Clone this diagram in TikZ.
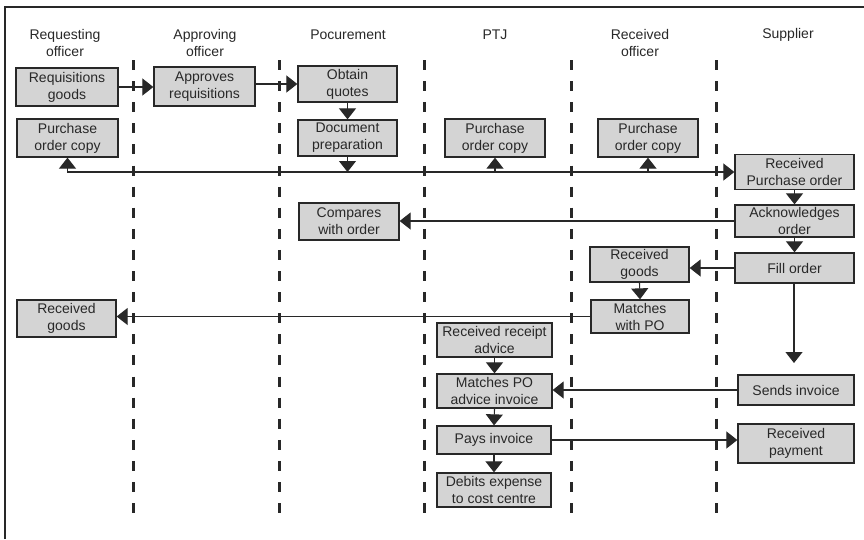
\documentclass[tikz,border=0pt]{standalone}
\usepackage{fontspec}
\setmainfont{Liberation Sans}
\usetikzlibrary{arrows.meta}
\definecolor{boxgray}{RGB}{212,212,212}
\definecolor{ink}{RGB}{40,40,40}
\begin{document}
\begin{tikzpicture}[x=1pt,y=-1pt,
  font=\fontsize{14}{17}\selectfont, text=ink,
  box/.style={draw=ink, line width=1.3pt, fill=boxgray, align=center, inner sep=0pt},
  lane/.style={draw=ink, line width=3pt, dash pattern=on 10pt off 11.1pt},
  conn/.style={draw=ink, line width=1.1pt},
  arr/.style={conn, -{Triangle[width=17pt,length=11pt]}},
  hdr/.style={align=center, inner sep=0pt}]
\useasboundingbox (0,0) rectangle (864,539);
% frame
\draw[ink, line width=1.3pt] (5,539) -- (5,7) -- (864,7);
% lanes
\foreach \x/\n in {133/a,279/b,424/c,571/d,716/e}{
  \coordinate (lt\n) at (\x,60);
  \coordinate (lb\n) at (\x,513);
  \draw[lane] (lt\n) -- (lb\n);
}
% headers
\node[hdr] (h1) at (65,43) {Requesting\\officer};
\node[hdr] (h2) at (205,43) {Approving\\officer};
\node[hdr] (h3) at (348,35) {Pocurement};
\node[hdr] (h4) at (495,35) {PTJ};
\node[hdr] (h5) at (640,43) {Received\\officer};
\node[hdr] (h6) at (788,35) {Supplier};
% boxes
\node[box, minimum width=102pt, minimum height=38pt] (req) at (67,87) {Requisitions\\goods};
\node[box, minimum width=101pt, minimum height=39pt] (appr) at (204.5,86.5) {Approves\\requisitions};
\node[box, minimum width=99pt, minimum height=36pt] (quo) at (347.5,84) {Obtain\\quotes};
\node[box, minimum width=99pt, minimum height=36pt] (doc) at (347.5,138) {Document\\preparation};
\node[box, minimum width=101pt, minimum height=38pt] (poca) at (67.5,138) {Purchase\\order copy};
\node[box, minimum width=100pt, minimum height=38pt] (pocb) at (495,138) {Purchase\\order copy};
\node[box, minimum width=100pt, minimum height=38pt] (pocc) at (648,138) {Purchase\\order copy};
\node[box, minimum width=119pt, minimum height=35pt] (rpo) at (794.5,172) {Received\\Purchase order};
\node[box, minimum width=119pt, minimum height=32pt] (ack) at (794.5,221) {Acknowledges\\order};
\node[box, minimum width=119pt, minimum height=30pt] (fill) at (794.5,268) {Fill order};
\node[box, minimum width=100pt, minimum height=37pt] (cmp) at (349,221.5) {Compares\\with order};
\node[box, minimum width=99pt, minimum height=35pt] (rgb) at (639.5,264.5) {Received\\goods};
\node[box, minimum width=98pt, minimum height=33pt] (mpo) at (640,316.5) {Matches\\with PO};
\node[box, minimum width=99pt, minimum height=37pt] (rga) at (66.5,318.5) {Received\\goods};
\node[box, minimum width=115pt, minimum height=34pt] (rra) at (494.5,340) {Received receipt\\advice};
\node[box, minimum width=115pt, minimum height=34pt] (mpai) at (494.5,391) {Matches PO\\advice invoice};
\node[box, minimum width=116pt, minimum height=30pt] (sinv) at (796,390) {Sends invoice};
\node[box, minimum width=114pt, minimum height=28pt] (pinv) at (494,440) {Pays invoice};
\node[box, minimum width=116pt, minimum height=39pt] (rpay) at (796,443.5) {Received\\payment};
\node[box, minimum width=114pt, minimum height=34pt] (deb) at (494,490) {Debits expense\\to cost centre};
% connectors
\draw[arr] (req.east) -- (req.east -| appr.west);
\draw[arr] (quo.west -| appr.east) -- (quo.west);
\draw[arr] (quo.south) -- (doc.north);
\coordinate (J) at (347.5,172);
\draw[arr] (doc.south) -- (J);
\draw[arr] (J) -| (poca.south);
\draw[arr] (J) -- (J -| rpo.west);
\draw[arr] (J -| pocb.south) -- (pocb.south);
\draw[arr] (J -| pocc.south) -- (pocc.south);
\draw[arr] (rpo.south) -- (ack.north);
\draw[arr] (ack.south) -- (fill.north);
\draw[arr] (ack.west) -- (ack.west -| cmp.east);
\draw[arr] (fill.west) -- (fill.west -| rgb.east);
\draw[arr] (rgb.south) -- (mpo.north);
\draw[arr] (mpo.west) -- (mpo.west -| rga.east);
\coordinate (F) at (794,363);
\draw[arr] (fill.south -| F) -- (F);
\draw[arr] (rra.south) -- (mpai.north);
\draw[arr] (sinv.west) -- (sinv.west -| mpai.east);
\draw[arr] (mpai.south) -- (pinv.north);
\draw[arr] (pinv.south) -- (deb.north);
\draw[arr] (pinv.east) -- (pinv.east -| rpay.west);
\end{tikzpicture}
\end{document}
